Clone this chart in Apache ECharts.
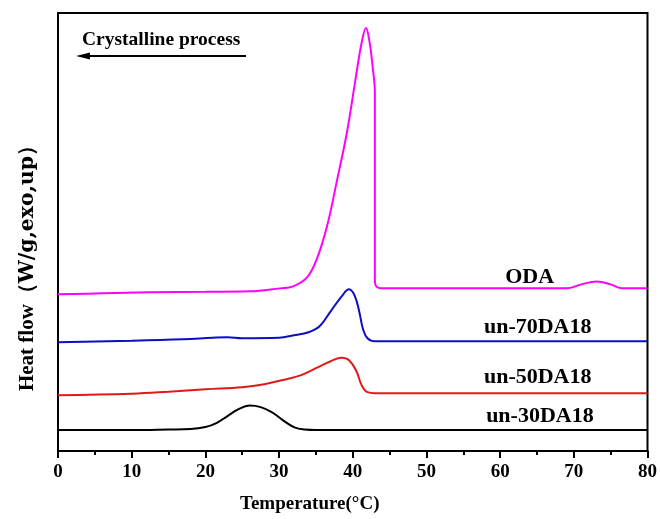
<!DOCTYPE html>
<html>
<head>
<meta charset="utf-8">
<script src="https://cdn.jsdelivr.net/npm/echarts@6/dist/echarts.min.js"></script>
<style>
  html, body { margin: 0; padding: 0; background: #fff; }
  #chart { width: 660px; height: 519px; }
</style>
</head>
<body>
<div id="chart"></div>
<script>
// DSC cooling curves, heat flow offset per sample (exo up)
const xTicks = [0, 10, 20, 30, 40, 50, 60, 70, 80];

const t30 = [0, 10, 15, 18, 20, 21.5, 23, 24.5, 26, 27.5, 29, 30.5, 32, 33.5, 35, 50, 65, 80];
const hf30 = [2.1, 2.1, 2.15, 2.2, 2.4, 2.8, 3.5, 4.2, 4.55, 4.4, 3.9, 3.1, 2.4, 2.15, 2.1, 2.1, 2.1, 2.1];

const t50 = [0, 10, 15, 20, 25, 28, 31, 33, 35, 37, 38.5, 39.5, 40.5, 41.2, 42, 43, 50, 65, 80];
const hf50 = [5.6, 5.75, 5.95, 6.2, 6.4, 6.7, 7.2, 7.6, 8.3, 9.0, 9.35, 9.1, 8.0, 6.6, 5.9, 5.8, 5.8, 5.8, 5.8];

const t70 = [0, 10, 17, 21, 23, 25, 30, 32, 34, 35.5, 37, 38.5, 39.5, 40.3, 40.9, 41.4, 42, 43, 50, 65, 80];
const hf70 = [10.9, 11.05, 11.2, 11.35, 11.4, 11.3, 11.35, 11.6, 11.9, 12.5, 14.0, 15.5, 16.2, 15.5, 13.9, 12.2, 11.3, 11.0, 11.0, 11.0, 11.0];

const tODA = [0, 6, 12.5, 20, 26, 30.1, 31.9, 33.8, 35.1, 36.5, 37.8, 39.2, 40.3, 41.2, 41.8, 42.3, 42.7, 43.0, 43.0, 43.2, 44.1, 55, 69, 71, 73.1, 75, 76.6, 80];
const hfODA = [15.7, 15.8, 15.9, 15.95, 16.0, 16.3, 16.5, 17.4, 19.2, 22.5, 26.9, 31.9, 36.9, 40.9, 42.4, 40.9, 38.5, 35.9, 17.2, 16.5, 16.3, 16.3, 16.3, 16.7, 17.0, 16.7, 16.3, 16.3];

const sampleNames = ['ODA', 'un-70DA18', 'un-50DA18', 'un-30DA18'];
const nameAt = [[64.0, 17.4], [65.1, 12.4], [65.1, 7.4], [65.4, 3.5]];

const FONT = '"Liberation Serif", "Times New Roman", serif';

function pairs(xs, ys) { return xs.map((x, i) => [x, ys[i]]); }

function curve(name, xs, ys, color) {
  return {
    name: name,
    type: 'line',
    data: pairs(xs, ys),
    showSymbol: false,
    smooth: 0.4,
    lineStyle: { color: color, width: 2 },
    itemStyle: { color: color },
    z: 3
  };
}

const chart = echarts.init(document.getElementById('chart'), null, { renderer: 'canvas' });

chart.setOption({
  animation: false,
  backgroundColor: '#fff',
  grid: { left: 58, right: 12, top: 13, bottom: 67, show: true, borderColor: '#000', borderWidth: 2, backgroundColor: 'transparent' },
  xAxis: {
    type: 'value', min: xTicks[0], max: xTicks[xTicks.length - 1], interval: 10,
    name: 'Temperature(°C)', nameLocation: 'middle', nameGap: 44,
    nameTextStyle: { fontFamily: FONT, fontWeight: 'bold', fontSize: 19, color: '#000', padding: [0, 86, 0, 0] },
    axisLine: { lineStyle: { color: '#000', width: 2 } },
    axisTick: { show: true, length: 7, lineStyle: { color: '#000', width: 2 } },
    minorTick: { show: true, splitNumber: 2, length: 4, lineStyle: { color: '#000', width: 2 } },
    axisLabel: { margin: 12, fontFamily: FONT, fontWeight: 'bold', fontSize: 19, color: '#000' },
    splitLine: { show: false }
  },
  yAxis: {
    type: 'value', min: 0, max: 43.9,
    name: '{a|Heat flow}{b|（W/g,exo,up）}', nameLocation: 'middle', nameGap: 20,
    nameTextStyle: {
      color: '#000', padding: [0, 62, 0, 0],
      rich: {
        a: { fontFamily: FONT, fontWeight: 'bold', fontSize: 21, color: '#000' },
        b: { fontFamily: '"DejaVu Serif", serif', fontWeight: 'bold', fontSize: 20.5, color: '#000' }
      }
    },
    axisLine: { show: true, lineStyle: { color: '#000', width: 2 } },
    axisTick: { show: false },
    axisLabel: { show: false },
    splitLine: { show: false }
  },
  series: [
    curve('un-30DA18', t30, hf30, '#000000'),
    curve('un-50DA18', t50, hf50, '#e01a1a'),
    curve('un-70DA18', t70, hf70, '#0d0dc4'),
    curve('ODA', tODA, hfODA, '#ff00ff')
  ]
});

// sample names beside their curves, placed in data coordinates
const nameTexts = nameAt.map((p, i) => {
  const px = chart.convertToPixel({ gridIndex: 0 }, p);
  return {
    type: 'text', x: px[0], y: px[1], z: 10,
    style: { text: sampleNames[i], font: 'bold 22px ' + FONT, fill: '#000', align: 'center', verticalAlign: 'middle' }
  };
});

chart.setOption({
  graphic: [
    { type: 'text', x: 82, y: 39.5, style: { text: 'Crystalline process', font: 'bold 19.5px ' + FONT, fill: '#000', verticalAlign: 'middle' } },
    { type: 'line', shape: { x1: 86, y1: 56, x2: 246, y2: 56 }, style: { stroke: '#000', lineWidth: 2 } },
    { type: 'polygon', shape: { points: [[76, 56], [90, 52.5], [90, 59.5]] }, style: { fill: '#000' } }
  ].concat(nameTexts)
});
</script>
</body>
</html>
